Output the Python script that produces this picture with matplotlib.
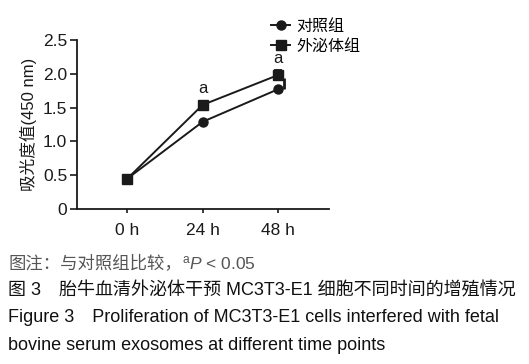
import matplotlib
matplotlib.use("Agg")
import matplotlib.pyplot as plt
import matplotlib.transforms as mtransforms

plt.rcParams['font.family'] = ['Liberation Sans', 'Noto Sans CJK SC']
plt.rcParams['mathtext.fontset'] = 'custom'
plt.rcParams['mathtext.rm'] = 'Liberation Sans'
plt.rcParams['mathtext.it'] = 'Liberation Sans:italic'

# data
time_labels = ['0 h', '24 h', '48 h']
control = [0.45, 1.29, 1.77]
exosome = [0.45, 1.54, 1.98]
exosome_err = [0.0, 0.02, 0.07]
control_err_up = [0.0, 0.0, 0.17]
sig_marks = ['', 'a', 'a']
series_names = ['对照组', '外泌体组']

W, H = 529, 364
fig = plt.figure(figsize=(W / 100, H / 100), dpi=100)
ax = fig.add_axes([77 / W, 1 - 209 / H, (329 - 77) / W, (209 - 40) / H])

x = list(range(len(time_labels)))
lc = '#1a1a1a'
l1, = ax.plot(x, control, '-o', color=lc, lw=1.4, ms=6.5, zorder=3)
l2, = ax.plot(x, exosome, '-s', color=lc, lw=1.4, ms=7, zorder=3)
ax.errorbar(x, exosome, yerr=exosome_err, fmt='none', ecolor=lc,
            elinewidth=1.3, capsize=3, capthick=1.3, zorder=2)
# control error bar is drawn shifted a little to the right
shift = mtransforms.offset_copy(ax.transData, fig=fig, x=6, y=0, units='dots')
vl = ax.vlines(x, control, [c + e for c, e in zip(control, control_err_up)],
               color=lc, lw=2.0, zorder=2)
vl.set_transform(shift)

for xi, yi, m in zip(x, exosome, sig_marks):
    if m:
        ax.annotate(m, (xi, yi), xytext=(0, 12), textcoords='offset points',
                    ha='center', va='center', fontsize=12, color=lc)

ax.set_xlim(-0.67, 2.68)
ax.set_ylim(0, 2.5)
ax.set_xticks(x)
ax.set_xticklabels(time_labels)
ax.set_yticks([0, 0.5, 1.0, 1.5, 2.0, 2.5])
ax.set_yticklabels(['0', '0.5', '1.0', '1.5', '2.0', '2.5'])
ax.tick_params(axis='y', direction='out', length=5, width=1.2, labelsize=12.5, colors=lc, pad=2)
ax.tick_params(axis='x', direction='out', length=3, width=1.2, labelsize=12.5, colors=lc, pad=7)
for s in ['top', 'right']:
    ax.spines[s].set_visible(False)
for s in ['left', 'bottom']:
    ax.spines[s].set_linewidth(1.3)
    ax.spines[s].set_color(lc)
ax.set_ylabel('吸光度值(450 nm)', fontsize=12, color=lc, labelpad=4)

fig.legend([l1, l2], series_names, loc='upper left',
           bbox_to_anchor=(271 / W, 1 - 19 / H), frameon=False, fontsize=11.5,
           handlelength=1.2, handletextpad=0.4, labelspacing=0.3,
           borderaxespad=0, borderpad=0)

y1 = 1 - 263 / H
t1 = fig.text(8 / W, y1, '图注：与对照组比较，', fontsize=12.5, color='#555555', va='center')
fig.canvas.draw()
bb = t1.get_window_extent()
fig.text(bb.x1 / W, y1, '$^{\\mathrm{a}}\\mathit{P}$ < 0.05',
         fontsize=12.5, color='#555555', va='center')
fig.text(8 / W, 1 - 291 / H, '图 3　胎牛血清外泌体干预 MC3T3-E1 细胞不同时间的增殖情况',
         fontsize=13, color='#111111', va='center')
fig.text(8 / W, 1 - 318 / H, 'Figure 3　Proliferation of MC3T3-E1 cells interfered with fetal',
         fontsize=13, color='#111111', va='center')
fig.text(8 / W, 1 - 345 / H, 'bovine serum exosomes at different time points',
         fontsize=13, color='#111111', va='center')

fig.savefig('out.png', dpi=100)
